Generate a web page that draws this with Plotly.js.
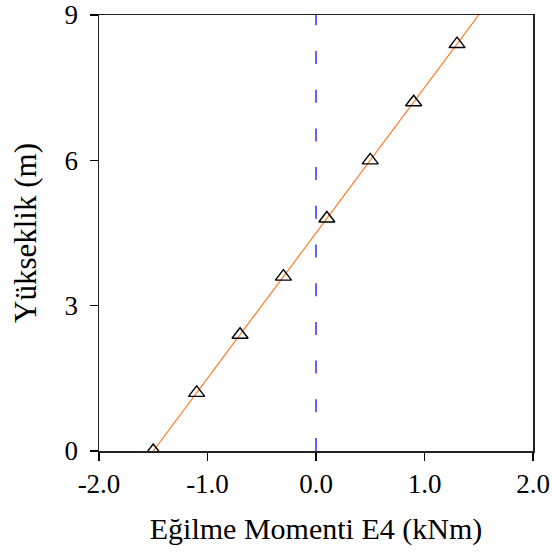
<!DOCTYPE html>
<html>
<head>
<meta charset="utf-8">
<script src="https://cdn.plot.ly/plotly-3.0.1.min.js"></script>
<style>html,body{margin:0;padding:0;background:#fff;}#chart{width:552px;height:558px;}</style>
</head>
<body>
<div id="chart"></div>
<script>
// Data
var lineMoment = [-1.5, 1.5];
var lineHeight = [0, 9];
var pointMoment = [-1.5, -1.1, -0.7, -0.3, 0.1, 0.5, 0.9, 1.3];
var pointHeight = [0, 1.2, 2.4, 3.6, 4.8, 6.0, 7.2, 8.4];
var refMoment = [0, 0];
var refHeight = [0, 9];
var xTickVals = [-2, -1, 0, 1, 2];
var xTickText = ['-2.0', '-1.0', '0.0', '1.0', '2.0'];
var yTickVals = [0, 3, 6, 9];
var yTickText = ['0', '3', '6', '9'];

var font = 'Liberation Serif, Times New Roman, serif';

var traces = [
  {x: refMoment, y: refHeight, mode: 'lines', type: 'scatter',
   line: {color: '#3030ff', width: 1.5, dash: '13px,25.7px'}, hoverinfo: 'skip'},
  {x: lineMoment, y: lineHeight, mode: 'lines', type: 'scatter',
   line: {color: '#ff7a22', width: 1.2}},
  {x: pointMoment, y: pointHeight, mode: 'markers', type: 'scatter',
   marker: {symbol: 'triangle-up-open', size: 14, color: '#000', line: {width: 1.4, color: '#000'}}}
];

var layout = {
  width: 552, height: 558,
  margin: {l: 99, r: 19, t: 15, b: 107},
  paper_bgcolor: '#fff', plot_bgcolor: '#fff',
  showlegend: false,
  font: {family: font, color: '#000', size: 27},
  xaxis: {
    range: [-2, 2], tickvals: xTickVals, ticktext: xTickText,
    ticks: 'outside', ticklen: 8, tickwidth: 1.5, tickcolor: '#000',
    showline: true, linecolor: '#222', linewidth: 1.5, mirror: true,
    showgrid: false, zeroline: false,
    tickfont: {family: font, size: 27},
    title: {text: 'Eğilme Momenti E4 (kNm)', font: {family: font, size: 30}, standoff: 20}
  },
  yaxis: {
    range: [0, 9], tickvals: yTickVals, ticktext: yTickText,
    ticks: 'outside', ticklen: 8, tickwidth: 1.5, tickcolor: '#000',
    showline: true, linecolor: '#222', linewidth: 1.5, mirror: true,
    showgrid: false, zeroline: false, ticklabelstandoff: 6,
    tickfont: {family: font, size: 27},
    title: {text: 'Yükseklik (m)', font: {family: font, size: 31}, standoff: 18}
  }
};

Plotly.newPlot('chart', traces, layout, {displayModeBar: false, staticPlot: true});
</script>
</body>
</html>
